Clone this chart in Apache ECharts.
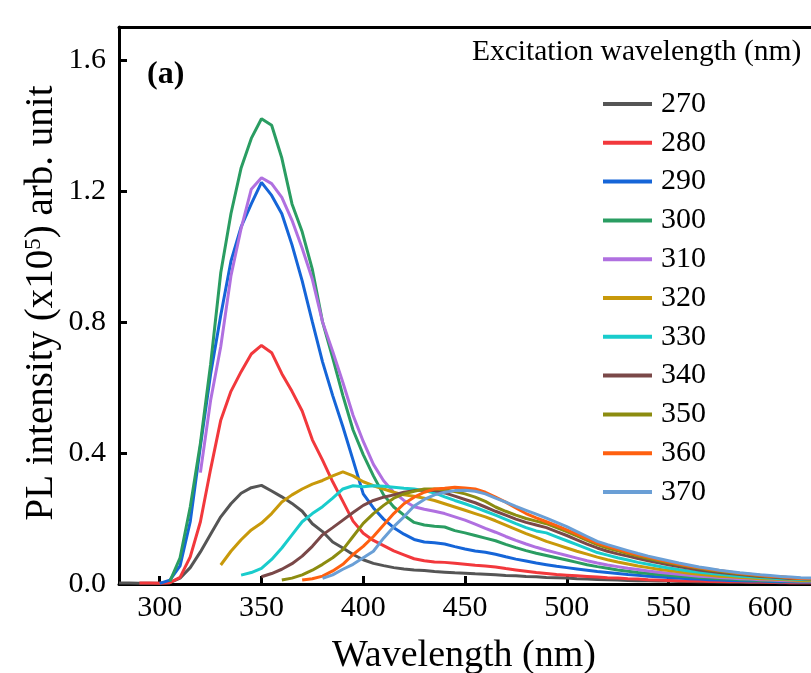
<!DOCTYPE html>
<html>
<head>
<meta charset="utf-8">
<script src="https://cdn.jsdelivr.net/npm/echarts@6/dist/echarts.min.js"></script>
<style>html,body{margin:0;padding:0;background:#fff}#c{width:811px;height:673px}</style>
</head>
<body>
<div id="c"></div>
<script>
// Excitation wavelengths (legend names) and colours
const excitation = ['270','280','290','300','310','320','330','340','350','360','370'];
const colors = ['#555555','#f2383c','#1565d8','#2a9d62','#b070e0','#c8990a','#19cccc','#7a4848','#8c8c10','#ff6010','#6a9fd6'];
// first emission wavelength (nm) of each series; samples every 5 nm after it
const starts = [280,290,300,305,320,330,340,350,360,370,380];
const step = 5;
const xTicks = [300,350,400,450,500,550,600];
const yTicks = [0,0.4,0.8,1.2,1.6];

const ex270 = [.003,.003,.002,.002,.002,.004,.018,.050,.098,.152,
  .205,.245,.277,.294,.301,.284,.266,.246,.222,.184,
  .160,.128,.110,.090,.074,.063,.056,.050,.046,.043,
  .041,.038,.036,.034,.033,.031,.030,.028,.026,.025,
  .023,.022,.020,.019,.018,.016,.015,.014,.013,.012,
  .011,.010,.010,.009,.009,.008,.008,.007,.007,.006,
  .006,.006,.005,.005,.005,.004,.004,.004,.004];
const ex280 = [.003,.003,.002,.004,.020,.083,.190,.350,.500,.588,
  .648,.702,.728,.706,.642,.588,.528,.440,.378,.312,
  .252,.192,.155,.133,.117,.101,.089,.077,.071,.067,
  .066,.063,.060,.057,.055,.052,.047,.043,.039,.035,
  .032,.029,.027,.025,.023,.021,.019,.018,.016,.015,
  .013,.012,.011,.010,.009,.009,.008,.008,.007,.007,
  .006,.006,.005,.005,.004,.004,.004];
const ex290 = [.002,.012,.055,.190,.420,.640,.820,.985,1.090,1.160,
  1.226,1.186,1.130,1.035,.925,.800,.678,.575,.480,.378,
  .275,.232,.198,.172,.152,.136,.128,.126,.122,.114,
  .107,.101,.097,.091,.083,.076,.070,.064,.059,.054,
  .050,.046,.042,.038,.035,.032,.029,.027,.024,.022,
  .020,.018,.016,.015,.013,.012,.011,.010,.009,.009,
  .008,.007,.007,.006,.006];
const ex300 = [.008,.080,.235,.430,.670,.950,1.130,1.270,1.360,1.420,
  1.400,1.300,1.160,1.075,.960,.800,.690,.575,.470,.395,
  .330,.272,.235,.210,.188,.180,.176,.174,.163,.156,
  .148,.140,.132,.121,.111,.102,.094,.087,.080,.073,
  .066,.059,.053,.048,.043,.039,.035,.032,.029,.027,
  .024,.022,.020,.018,.016,.015,.013,.012,.011,.010,
  .010,.009,.008,.008];
const ex310 = [.340,.560,.725,.940,1.085,1.205,1.240,1.222,1.180,1.110,
  1.025,.930,.800,.710,.615,.515,.435,.365,.315,.280,
  .255,.236,.228,.222,.215,.205,.195,.183,.170,.158,
  .145,.133,.122,.112,.103,.095,.087,.079,.071,.064,
  .058,.053,.048,.044,.040,.036,.033,.030,.027,.024,
  .022,.020,.018,.016,.015,.013,.012,.011,.010,.009,.009];
const ex320 = [.058,.100,.135,.165,.186,.215,.250,.272,.290,.305,
  .316,.330,.342,.330,.312,.300,.290,.280,.272,.268,
  .262,.255,.245,.235,.225,.215,.205,.193,.180,.167,
  .154,.142,.130,.120,.110,.100,.091,.082,.074,.067,
  .061,.055,.050,.045,.041,.037,.033,.030,.027,.024,
  .022,.020,.018,.016,.015,.014,.012,.011,.011];
const ex330 = [.027,.035,.048,.075,.110,.150,.190,.215,.236,.262,
  .290,.300,.297,.300,.298,.295,.292,.290,.285,.278,
  .266,.255,.245,.234,.222,.210,.197,.184,.172,.162,
  .156,.144,.132,.120,.108,.096,.088,.080,.073,.066,
  .060,.054,.049,.044,.040,.036,.033,.030,.027,.024,
  .022,.020,.018,.016,.015,.014,.013];
const ex340 = [.022,.032,.045,.062,.085,.115,.150,.172,.195,.218,
  .240,.255,.265,.272,.280,.285,.287,.285,.278,.268,
  .258,.248,.235,.222,.210,.198,.188,.180,.172,.160,
  .148,.135,.122,.110,.100,.092,.085,.078,.071,.065,
  .059,.053,.048,.043,.039,.035,.032,.029,.026,.023,
  .021,.019,.017,.016,.015];
const ex350 = [.012,.018,.028,.042,.060,.080,.105,.145,.185,.215,
  .240,.262,.275,.283,.290,.290,.288,.282,.275,.265,
  .252,.235,.222,.210,.200,.192,.184,.172,.160,.147,
  .133,.120,.110,.101,.093,.085,.078,.071,.065,.059,
  .053,.048,.043,.039,.035,.031,.028,.025,.023,.021,
  .019,.017,.016];
const ex360 = [.012,.016,.024,.040,.060,.090,.115,.145,.180,.215,
  .245,.265,.280,.290,.292,.295,.293,.290,.280,.265,
  .250,.232,.215,.202,.190,.178,.165,.152,.138,.125,
  .115,.106,.097,.089,.082,.075,.068,.061,.055,.050,
  .045,.041,.037,.033,.030,.027,.024,.022,.019,.017,.016];
const ex370 = [.017,.028,.045,.060,.080,.100,.140,.175,.205,.238,
  .258,.272,.280,.285,.286,.283,.275,.262,.250,.237,
  .225,.213,.201,.188,.175,.160,.145,.130,.120,.111,
  .102,.093,.085,.078,.071,.064,.058,.052,.047,.042,
  .038,.034,.031,.028,.026,.023,.021,.019,.018];

const values = [ex270,ex280,ex290,ex300,ex310,ex320,ex330,ex340,ex350,ex360,ex370];

const FONT = 'Liberation Serif';
const chart = echarts.init(document.getElementById('c'), null, {renderer:'canvas'});
const series = values.map((vals, k) => ({
  name: excitation[k],
  type: 'line',
  xAxisIndex: 0,
  yAxisIndex: 0,
  data: vals.map((v, i) => [starts[k] + step * i, v]),
  showSymbol: false,
  symbol: 'none',
  lineStyle: {width: 3, color: colors[k]},
  itemStyle: {color: colors[k]},
  emphasis: {disabled: true},
  silent: true
}));

chart.setOption({
  animation: false,
  backgroundColor: '#ffffff',
  grid: {left: 119, top: 27, width: 697, height: 557, containLabel: false},
  xAxis: [{
    type: 'value', min: 280, max: 620, position: 'bottom',
    axisLine: {show: true, onZero: false, lineStyle: {color: '#000', width: 3}},
    axisTick: {show: true, inside: true, length: 8, customValues: xTicks, lineStyle: {color: '#000', width: 3}},
    axisLabel: {customValues: xTicks, fontFamily: FONT, fontSize: 30, color: '#000', margin: 9},
    splitLine: {show: false}
  }, {
    type: 'value', min: 280, max: 620, position: 'top',
    axisLine: {show: true, onZero: false, lineStyle: {color: '#000', width: 3}},
    axisTick: {show: false}, axisLabel: {show: false}, splitLine: {show: false}
  }],
  yAxis: [{
    type: 'value', min: 0, max: 1.7,
    axisLine: {show: true, onZero: false, lineStyle: {color: '#000', width: 3}},
    axisTick: {show: true, inside: true, length: 8, customValues: yTicks, lineStyle: {color: '#000', width: 3}},
    axisLabel: {customValues: yTicks, formatter: v => v.toFixed(1), fontFamily: FONT, fontSize: 30, color: '#000', margin: 13},
    splitLine: {show: false}
  }],
  legend: {
    orient: 'vertical', left: 598, top: 84,
    data: excitation,
    icon: 'rect', itemWidth: 49, itemHeight: 4, itemGap: 8.8,
    textStyle: {fontFamily: FONT, fontSize: 30, color: '#000', lineHeight: 30, padding: [0,0,0,4]},
    selectedMode: false
  },
  graphic: [
    {type: 'text', left: 147, top: 59, style: {text: '(a)', font: 'bold 32px "Liberation Serif"', fill: '#000'}},
    {type: 'text', x: 472, y: 52, style: {text: 'Excitation wavelength (nm)', font: '29.5px "Liberation Serif"', fill: '#000', textAlign: 'left', textVerticalAlign: 'middle'}},
    {type: 'text', x: 464, y: 656, style: {text: 'Wavelength (nm)', font: '38px "Liberation Serif"', fill: '#000', textAlign: 'center', textVerticalAlign: 'middle'}},
    {type: 'text', x: 42, y: 303, rotation: Math.PI / 2,
     style: {text: 'PL intensity (x10{sup|5}) arb. unit', font: '39px "Liberation Serif"', fill: '#000', textAlign: 'center', textVerticalAlign: 'middle',
       rich: {sup: {fontSize: 23, fontFamily: FONT, verticalAlign: 'top', padding: [0,0,16,0]}}}}
  ],
  series: series
});
</script>
</body>
</html>
